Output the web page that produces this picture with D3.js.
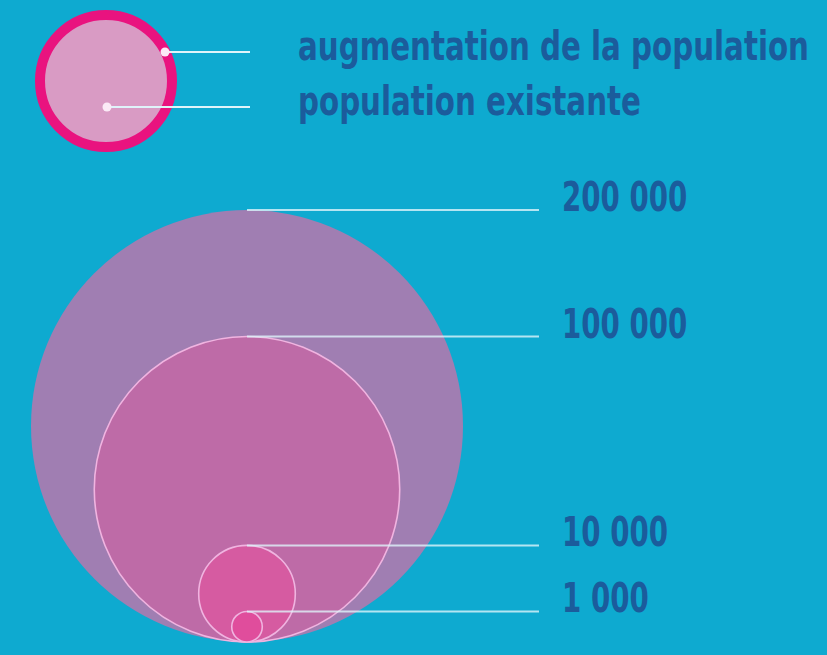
<!DOCTYPE html>
<html>
<head>
<meta charset="utf-8">
<script src="https://cdn.jsdelivr.net/npm/d3@7"></script>
<style>
  body { margin: 0; background: #0eaad0; }
  svg { display: block; }
</style>
</head>
<body>
<script>
// Values of the proportional circles (population)
var circleValues = [200000, 100000, 10000, 1000];
var circleLabels = ["200 000", "100 000", "10 000", "1 000"];
var circleFills = ["#a07eb2", "#be6ba7", "#d65ba1", "#e04d9c"];

// Key texts
var keyLabels = ["augmentation de la population", "population existante"];

var width = 827, height = 655;
var fontFamily = "'Liberation Sans Narrow', 'Arial Narrow', 'DejaVu Sans Condensed', sans-serif";
var textColor = "#1b5c9c";
var lineColor = "#dff4fa";

var svg = d3.select("body").append("svg")
    .attr("width", width)
    .attr("height", height);

svg.append("rect")
    .attr("width", width)
    .attr("height", height)
    .attr("fill", "#0eaad0");

// Sqrt scale so circle area is proportional to population
var r = d3.scaleSqrt()
    .domain([0, d3.max(circleValues)])
    .range([0, 216]);

var cx = 247, baseY = 642;
var lineEnd = 539, labelX = 562;

// Helper: condensed bold text anchored at (x, y), squeezed horizontally
function addText(g, x, y, str, squeeze) {
    return g.append("text")
        .attr("transform", "translate(" + x + "," + y + ") scale(" + squeeze + ",1)")
        .attr("font-family", fontFamily)
        .attr("font-weight", "bold")
        .attr("font-size", "40px")
        .attr("fill", textColor)
        .text(str);
}

// Draw nested circles, all resting on the same base line
var circles = svg.append("g");
circles.selectAll("circle")
    .data(circleValues)
    .enter().append("circle")
    .attr("cx", cx)
    .attr("cy", function (d) { return baseY - r(d); })
    .attr("r", function (d) { return r(d); })
    .attr("fill", function (d, i) { return circleFills[i]; })
    .attr("stroke", function (d, i) { return i === 0 ? "none" : "#f0b4e0"; })
    .attr("stroke-width", 1.6);

// Leader lines from the top of each circle
circles.selectAll("line")
    .data(circleValues)
    .enter().append("line")
    .attr("x1", cx)
    .attr("x2", lineEnd)
    .attr("y1", function (d) { return baseY - 2 * r(d); })
    .attr("y2", function (d) { return baseY - 2 * r(d); })
    .attr("stroke", lineColor)
    .attr("stroke-opacity", 0.8)
    .attr("stroke-width", 2);

// Value labels
circleValues.forEach(function (d, i) {
    addText(circles, labelX, baseY - 2 * r(d) + 1, circleLabels[i], 0.77);
});

// Key: ring = increase, fill = existing population
var key = svg.append("g");
var kx = 106, ky = 81;
key.append("circle")
    .attr("cx", kx)
    .attr("cy", ky)
    .attr("r", 66)
    .attr("fill", "#d99bc4")
    .attr("stroke", "#e9137f")
    .attr("stroke-width", 10);

var keyPoints = [[165, 52], [107, 107]];
var keyTextY = [60, 115];

keyPoints.forEach(function (p, i) {
    key.append("line")
        .attr("x1", p[0])
        .attr("x2", 250)
        .attr("y1", p[1])
        .attr("y2", p[1])
        .attr("stroke", lineColor)
        .attr("stroke-width", 2);
    key.append("circle")
        .attr("cx", p[0])
        .attr("cy", p[1])
        .attr("r", 4.5)
        .attr("fill", "#fbeaf6");
    addText(key, 298, keyTextY[i], keyLabels[i], 0.815);
});
</script>
</body>
</html>
